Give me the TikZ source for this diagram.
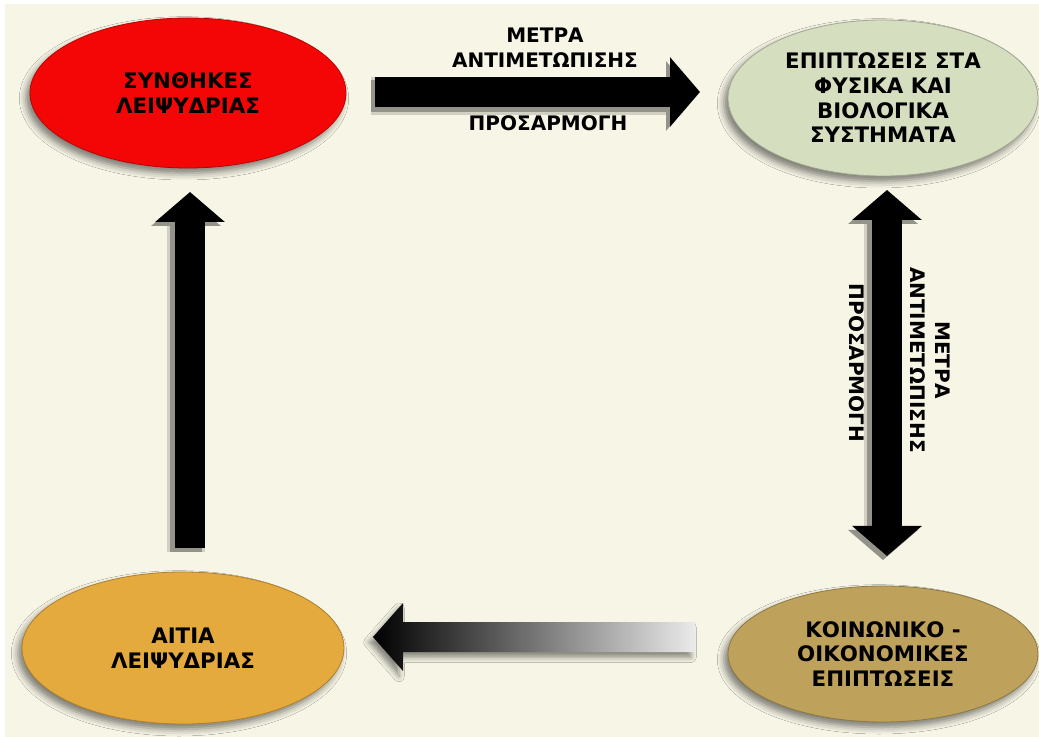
\documentclass[tikz,border=0pt]{standalone}
\usepackage{fontspec}
\setmainfont{DejaVu Sans}
\usetikzlibrary{shapes.geometric,arrows.meta,shadows.blur}

\definecolor{bgbeige}{RGB}{247,245,230}
\definecolor{redfill}{RGB}{245,6,6}
\definecolor{greenfill}{RGB}{214,222,192}
\definecolor{orangefill}{RGB}{229,170,62}
\definecolor{tanfill}{RGB}{190,162,92}

\tikzset{
  bubble/.style={ellipse, draw=#1!75!black, fill=#1, line width=0.6pt, inner sep=0pt, align=center,
    font=\bfseries\fontsize{16}{18.5}\selectfont,
    blur shadow={shadow xshift=-3pt, shadow yshift=-4pt, shadow blur radius=5pt, shadow opacity=50}},
  blockarrow/.style={draw=black, line width=22.5pt,
    preaction={draw=black!15!bgbeige, line width=29pt, transform canvas={shift={(-3pt,-3pt)}}},
    preaction={draw=black!40!bgbeige, line width=24pt, transform canvas={shift={(-3pt,-3pt)}}}},
  bighead/.style={-{Triangle[length=22.5pt, width=51pt]}},
  lbl/.style={font=\bfseries\fontsize{15}{18.5}\selectfont, align=center},
}

\begin{document}
\begin{tikzpicture}[x=0.75pt,y=0.75pt,yscale=-1,xscale=1]
\useasboundingbox (0,0) rectangle (1039,737);
\fill[white] (0,0) rectangle (1039,737);
\fill[bgbeige] (5,4) rectangle (1039,737);

% Ellipses
\node[bubble=redfill, minimum width=237pt, minimum height=112.5pt] (cond) at (188,93) {ΣΥΝΘΗΚΕΣ\\ΛΕΙΨΥΔΡΙΑΣ};
\node[bubble=greenfill, minimum width=232.5pt, minimum height=117pt] (impact) at (883,98) {ΕΠΙΠΤΩΣΕΙΣ ΣΤΑ\\ΦΥΣΙΚΑ ΚΑΙ\\ΒΙΟΛΟΓΙΚΑ\\ΣΥΣΤΗΜΑΤΑ};
\node[bubble=orangefill, minimum width=241.5pt, minimum height=114pt] (cause) at (183,648) {ΑΙΤΙΑ\\ΛΕΙΨΥΔΡΙΑΣ};
\node[bubble=tanfill, minimum width=232.5pt, minimum height=102pt] (socio) at (883,654) {ΚΟΙΝΩΝΙΚΟ -\\ΟΙΚΟΝΟΜΙΚΕΣ\\ΕΠΙΠΤΩΣΕΙΣ};

% Arrow ends
\coordinate (topT) at (375,92);
\coordinate (topH) at (700,92);
\coordinate (leftT) at (190,548);
\coordinate (leftH) at (190,192);
\coordinate (rightA) at (887,190);
\coordinate (rightB) at (887,556);
\coordinate (botT) at (695,637);
\coordinate (botH) at (373,637);

% Arrows
\draw[blockarrow, bighead] (topT) -- (topH);
\draw[blockarrow, bighead] (leftT) -- (leftH);
\draw[blockarrow, {Triangle[length=22.5pt, width=51pt]}-{Triangle[length=22.5pt, width=51pt]}] (rightA) -- (rightB);
\shade[left color=black, right color=white!92!black,
  blur shadow={shadow xshift=-3pt, shadow yshift=-4pt, shadow blur radius=4pt, shadow opacity=45}]
  (botH) -- ++(30,-34) -- ++(0,19) -- (botT |- 0,622) -- (botT |- 0,652) -- ++(-292,0) -- ++(0,19) -- cycle;

% Text Node
\node[lbl] (topup) at (545,48) {ΜΕΤΡΑ\\ΑΝΤΙΜΕΤΩΠΙΣΗΣ};
\node[lbl] (topdown) at (548,123) {ΠΡΟΣΑΡΜΟΓΗ};
\node[lbl, rotate=-90] (sideup) at (930,360) {ΜΕΤΡΑ\\ΑΝΤΙΜΕΤΩΠΙΣΗΣ};
\node[lbl, rotate=-90] (sidedown) at (857,363) {ΠΡΟΣΑΡΜΟΓΗ};

\end{tikzpicture}
\end{document}
